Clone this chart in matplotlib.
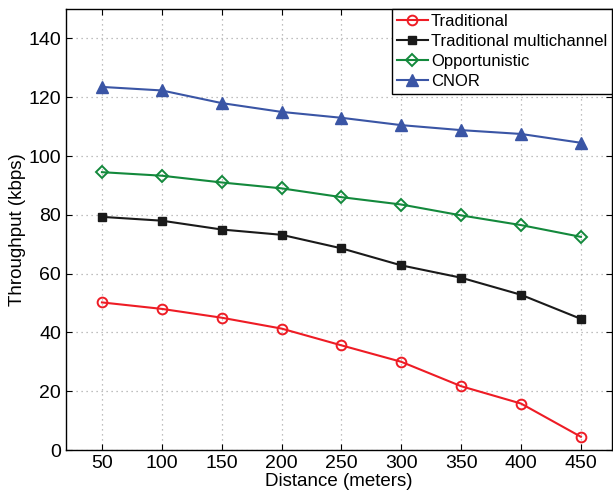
import numpy as np
import matplotlib.pyplot as plt

plt.rcParams['font.family'] = ['Liberation Sans', 'DejaVu Sans']

distance = [50, 100, 150, 200, 250, 300, 350, 400, 450]
traditional = [50.2, 48.0, 45.0, 41.3, 35.6, 30.0, 21.7, 15.8, 4.5]
trad_multi = [79.3, 78.0, 75.0, 73.2, 68.6, 62.8, 58.6, 52.8, 44.6]
opportunistic = [94.5, 93.3, 91.0, 89.0, 86.0, 83.5, 79.8, 76.5, 72.5]
cnor = [123.5, 122.3, 118.0, 115.0, 113.0, 110.5, 108.8, 107.5, 104.5]

fig = plt.figure(figsize=(6.13, 4.95), dpi=100)
ax = fig.add_axes([0.1077, 0.0909, 0.8907, 0.8909])

ax.plot(distance, traditional, color='#ee1c25', marker='o', ms=7, mfc='none',
        mew=1.4, lw=1.5, label='Traditional')
ax.plot(distance, trad_multi, color='#1a1a1a', marker='s', ms=6, lw=1.5,
        label='Traditional multichannel')
ax.plot(distance, opportunistic, color='#13893c', marker='D', ms=6, mfc='none',
        mew=1.4, lw=1.5, label='Opportunistic')
ax.plot(distance, cnor, color='#3a55a5', marker='^', ms=8.5, lw=1.5, label='CNOR')

ax.set_xlim(20, 476)
ax.set_ylim(0, 150)
ax.set_xticks(distance)
ax.set_yticks(np.arange(0, 141, 20))
ax.tick_params(direction='in', top=True, right=True, labelsize=14, length=4)
ax.grid(True, linestyle=(0, (1, 3)), color='#aaaaaa', lw=0.9)
ax.set_xlabel('Distance (meters)', fontsize=13.5, labelpad=1)
ax.set_ylabel('Throughput (kbps)', fontsize=13.5, labelpad=2)
for s in ax.spines.values():
    s.set_linewidth(1.0)

leg = ax.legend(loc='upper right', fontsize=12, borderaxespad=0, handlelength=1.9,
                handletextpad=0.15, labelspacing=0.3, borderpad=0.3, fancybox=False,
                framealpha=1)
leg.get_frame().set_edgecolor('black')
leg.get_frame().set_linewidth(1.0)

fig.savefig('out.png', dpi=100)
